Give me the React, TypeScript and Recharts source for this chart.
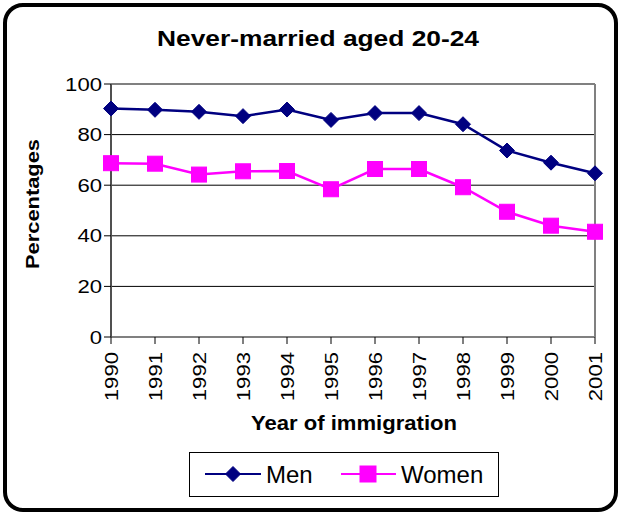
import React from 'react';
import { LineChart, Line, XAxis, YAxis, CartesianGrid, ReferenceLine } from 'recharts';

const years = ['1990', '1991', '1992', '1993', '1994', '1995', '1996', '1997', '1998', '1999', '2000', '2001'];
const menValues = [90.3, 89.8, 89.0, 87.3, 89.9, 85.8, 88.5, 88.5, 84.1, 73.7, 68.9, 64.7];
const womenValues = [68.7, 68.5, 64.2, 65.5, 65.6, 58.4, 66.4, 66.4, 59.2, 49.5, 44.0, 41.6];
const yTicks = [0, 20, 40, 60, 80, 100];
const seriesNames = ['Men', 'Women'];
const titleText = 'Never-married aged 20-24';
const xTitle = 'Year of immigration';
const yTitle = 'Percentages';

const MEN_COLOR = '#000080';
const WOMEN_COLOR = '#FF00FF';
const FONT = '"Liberation Sans", Arial, sans-serif';
const DIGIT_W = 12.3;

const data = years.map((y, i) => ({ year: y, Men: menValues[i], Women: womenValues[i] }));

const Diamond = ({ cx, cy, r, color }: any) => (
  <path d={`M${cx},${cy - r} L${cx + r},${cy} L${cx},${cy + r} L${cx - r},${cy} Z`} fill={color} stroke={color} />
);
const Square = ({ cx, cy, r, color }: any) => (
  <rect x={cx - r} y={cy - r} width={2 * r} height={2 * r} fill={color} stroke={color} />
);

const XTick = (props: any) => {
  const { x, y, payload } = props;
  const ty = y + 6;
  const s = String(payload.value);
  return (
    <text
      x={x}
      y={ty}
      transform={`rotate(-90 ${x} ${ty})`}
      textAnchor="end"
      dy="0.36em"
      fontSize={18.5}
      fontFamily={FONT}
      fill="#000"
      textLength={DIGIT_W * s.length}
      lengthAdjust="spacingAndGlyphs"
    >
      {s}
    </text>
  );
};

const YTick = (props: any) => {
  const { x, y, payload } = props;
  const s = String(payload.value);
  return (
    <text
      x={x}
      y={y}
      textAnchor="end"
      dy="0.36em"
      fontSize={18.5}
      fontFamily={FONT}
      fill="#000"
      textLength={DIGIT_W * s.length}
      lengthAdjust="spacingAndGlyphs"
    >
      {s}
    </text>
  );
};

export default function App() {
  return (
    <div style={{ position: 'absolute', left: 0, top: 0, width: 620, height: 513, background: '#fff', fontFamily: FONT }}>
      <LineChart width={620} height={513} data={data} margin={{ top: 84, right: 25, bottom: 116, left: 31 }}>
        <CartesianGrid vertical={false} stroke="#000" strokeWidth={1} />
        <XAxis
          dataKey="year"
          height={60}
          interval={0}
          tickSize={7}
          tickLine={{ stroke: '#000' }}
          axisLine={{ stroke: '#808080', strokeWidth: 2 }}
          tick={<XTick />}
        />
        <YAxis
          width={80}
          domain={[0, 100]}
          ticks={yTicks}
          tickSize={7}
          tickLine={{ stroke: '#000' }}
          axisLine={{ stroke: '#505050', strokeWidth: 2 }}
          tick={<YTick />}
        />
        <ReferenceLine y={100} stroke="#808080" strokeWidth={2} />
        <ReferenceLine x="2001" stroke="#808080" strokeWidth={2} />
        <Line
          dataKey="Men"
          stroke={MEN_COLOR}
          strokeWidth={2.5}
          isAnimationActive={false}
          dot={(p: any) => <Diamond key={`m${p.index}`} cx={p.cx} cy={p.cy} r={7.5} color={MEN_COLOR} />}
        />
        <Line
          dataKey="Women"
          stroke={WOMEN_COLOR}
          strokeWidth={2.5}
          isAnimationActive={false}
          dot={(p: any) => <Square key={`w${p.index}`} cx={p.cx} cy={p.cy} r={7.5} color={WOMEN_COLOR} />}
        />
      </LineChart>

      <svg width={620} height={513} style={{ position: 'absolute', left: 0, top: 0, pointerEvents: 'none' }}>
        <text
          x={318}
          y={46}
          textAnchor="middle"
          fontSize={22}
          fontWeight="bold"
          fontFamily={FONT}
          textLength={322}
          lengthAdjust="spacingAndGlyphs"
        >
          {titleText}
        </text>
        <text
          x={39}
          y={204}
          transform="rotate(-90 39 204)"
          textAnchor="middle"
          fontSize={18}
          fontWeight="bold"
          fontFamily={FONT}
          textLength={130}
          lengthAdjust="spacingAndGlyphs"
        >
          {yTitle}
        </text>
        <text
          x={354}
          y={430}
          textAnchor="middle"
          fontSize={19.5}
          fontWeight="bold"
          fontFamily={FONT}
          textLength={206}
          lengthAdjust="spacingAndGlyphs"
        >
          {xTitle}
        </text>
      </svg>

      <div
        style={{
          position: 'absolute',
          left: 189,
          top: 452,
          width: 310,
          height: 45,
          border: '1px solid #000',
          boxSizing: 'border-box',
          background: '#fff',
        }}
      >
        <svg width={308} height={43} style={{ position: 'absolute', left: 0, top: 0 }}>
          <line x1={15} x2={71} y1={21} y2={21} stroke={MEN_COLOR} strokeWidth={2} />
          <Diamond cx={43} cy={21} r={7.5} color={MEN_COLOR} />
          <text x={76} y={30} fontSize={24} fontFamily={FONT} fill="#000">
            {seriesNames[0]}
          </text>
          <line x1={151} x2={206} y1={21} y2={21} stroke={WOMEN_COLOR} strokeWidth={2} />
          <Square cx={178} cy={21} r={8} color={WOMEN_COLOR} />
          <text x={211} y={30} fontSize={24} fontFamily={FONT} fill="#000">
            {seriesNames[1]}
          </text>
        </svg>
      </div>

      <div
        style={{
          position: 'absolute',
          left: 3,
          top: 3,
          width: 615,
          height: 509,
          border: '4px solid #000',
          borderRadius: 20,
          boxSizing: 'border-box',
          pointerEvents: 'none',
        }}
      />
    </div>
  );
}
